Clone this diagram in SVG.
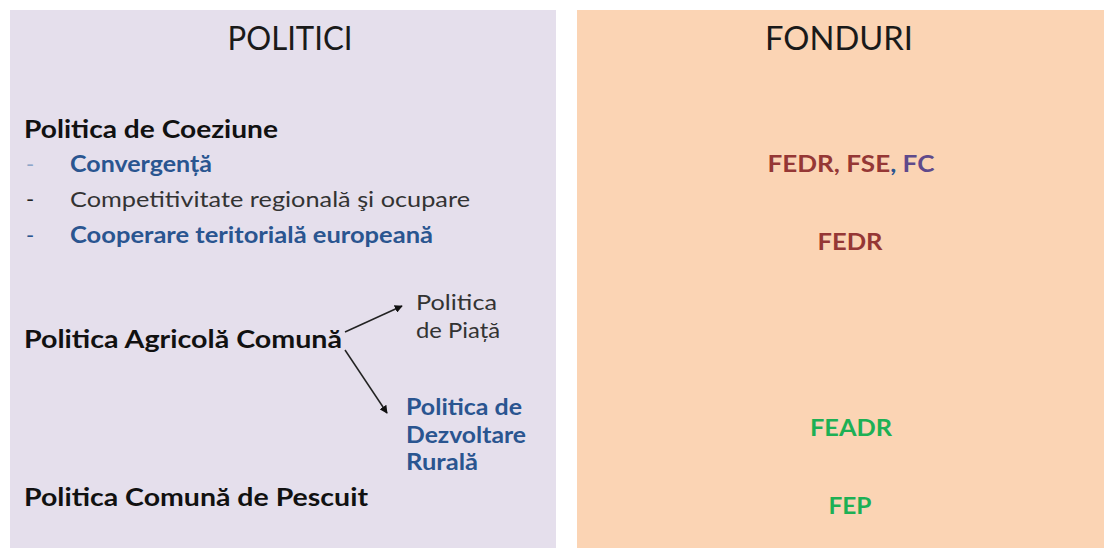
<svg xmlns="http://www.w3.org/2000/svg" width="1104" height="548" viewBox="0 0 1104 548">
<defs>
<style>
text{font-family:Lato,"Open Sans","Liberation Sans",sans-serif;}
.t{font-size:32px;fill:#1a1a1a;text-anchor:middle;}
.h{font-size:24px;font-weight:bold;fill:#111;}
.b{font-size:22px;font-weight:bold;fill:#2a5590;}
.r{font-size:22px;fill:#333;}
.d{font-size:22px;}
.f{font-size:23px;font-weight:bold;text-anchor:middle;}
.red{fill:#953735;}
.grn{fill:#1db055;}
.pur{fill:#5f4a8b;}
.edge{stroke:#222;stroke-width:1.5;fill:none;marker-end:url(#ah);}
</style>
<marker id="ah" viewBox="0 0 10 10" refX="9" refY="5" markerWidth="8" markerHeight="8" markerUnits="userSpaceOnUse" orient="auto">
<path d="M0,0 L10,5 L0,10 z" fill="#111"/>
</marker>
</defs>
<rect width="1104" height="548" fill="#ffffff"/>
<g id="panel-politici">
<rect x="10" y="10" width="546" height="538" fill="#e5dfec"/>
<text class="t" x="290" y="50" textLength="125" lengthAdjust="spacingAndGlyphs">POLITICI</text>
</g>
<g id="panel-fonduri">
<rect x="577" y="10" width="527" height="538" fill="#fbd4b4"/>
<text class="t" x="839" y="50" textLength="148" lengthAdjust="spacingAndGlyphs">FONDURI</text>
</g>
<g id="coeziune">
<text class="h" x="24" y="138" textLength="254" lengthAdjust="spacingAndGlyphs">Politica de Coeziune</text>
<text class="d" x="26" y="172" fill="#8ea6c8">-</text>
<text class="b" x="70" y="172" textLength="142" lengthAdjust="spacingAndGlyphs">Convergență</text>
<text class="d" x="26" y="207" fill="#222">-</text>
<text class="r" x="70" y="207" textLength="400" lengthAdjust="spacingAndGlyphs">Competitivitate regională şi ocupare</text>
<text class="d" x="26" y="243" fill="#2a5590">-</text>
<text class="b" x="70" y="243" textLength="363" lengthAdjust="spacingAndGlyphs">Cooperare teritorială europeană</text>
</g>
<g id="pac">
<text class="h" x="24" y="348" textLength="318" lengthAdjust="spacingAndGlyphs">Politica Agricolă Comună</text>
</g>
<g id="piata">
<text class="r" x="416" y="310" textLength="81" lengthAdjust="spacingAndGlyphs">Politica</text>
<text class="r" x="416" y="338" textLength="84" lengthAdjust="spacingAndGlyphs">de Piață</text>
</g>
<g id="rurala">
<text class="b" x="406" y="415" textLength="116" lengthAdjust="spacingAndGlyphs">Politica de</text>
<text class="b" x="406" y="443" textLength="120" lengthAdjust="spacingAndGlyphs">Dezvoltare</text>
<text class="b" x="406" y="470" textLength="72" lengthAdjust="spacingAndGlyphs">Rurală</text>
</g>
<g id="pescuit">
<text class="h" x="24" y="506" textLength="344" lengthAdjust="spacingAndGlyphs">Politica Comună de Pescuit</text>
</g>
<g id="fonduri-coeziune">
<text class="f" x="851" y="172" textLength="167" lengthAdjust="spacingAndGlyphs"><tspan class="red">FEDR, FSE</tspan><tspan fill="#2a5590">, </tspan><tspan class="pur">FC</tspan></text>
<text class="f red" x="850" y="250" textLength="65" lengthAdjust="spacingAndGlyphs">FEDR</text>
</g>
<g id="fonduri-agricol">
<text class="f grn" x="851" y="436" textLength="82" lengthAdjust="spacingAndGlyphs">FEADR</text>
<text class="f grn" x="850" y="514" textLength="43" lengthAdjust="spacingAndGlyphs">FEP</text>
</g>
<g id="connectors">
<path class="edge" d="M345,332 L402,306"/>
<path class="edge" d="M345,350 L387,413"/>
</g>
</svg>
